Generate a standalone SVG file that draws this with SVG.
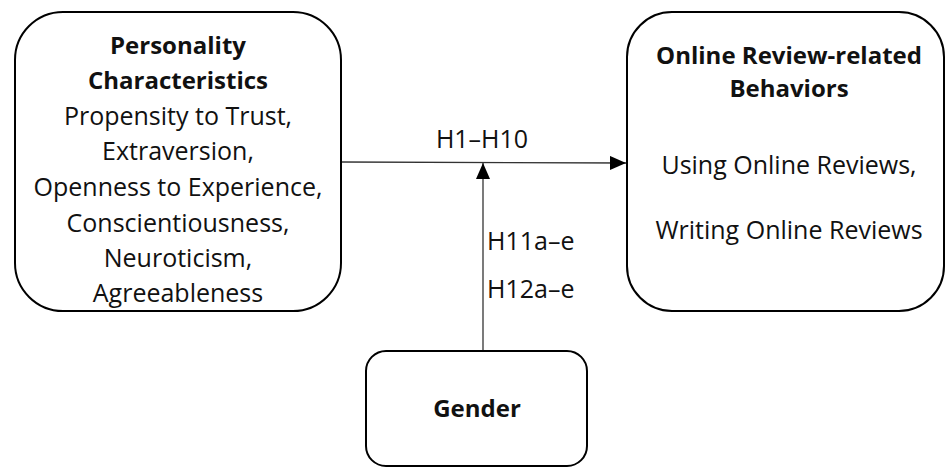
<svg xmlns="http://www.w3.org/2000/svg" width="945" height="468" viewBox="0 0 945 468">
<style>
.box{fill:#fff;stroke:#000;stroke-width:2}
.t{font-family:"Open Sans","Liberation Sans",sans-serif;font-size:25px;fill:#111;text-anchor:middle}
.b{font-weight:bold;font-size:24px}
.l{text-anchor:start}
.c{stroke:#333;stroke-width:1.3;fill:none}
</style>
<defs>
<marker id="ah2" markerWidth="16" markerHeight="14" refX="16" refY="7" orient="auto" markerUnits="userSpaceOnUse" viewBox="0 0 16 14">
<path d="M0,0 L16,7 L0,14 z" fill="#000"/>
</marker>
</defs>
<g id="connectors">
<line class="c" x1="341" y1="162" x2="626" y2="163" marker-end="url(#ah2)"/>
<line class="c" x1="483" y1="351" x2="483" y2="163" marker-end="url(#ah2)"/>
<text class="t" x="482" y="148">H1–H10</text>
<text class="t l" x="487" y="250">H11a–e</text>
<text class="t l" x="487" y="298">H12a–e</text>
</g>
<g id="personality">
<rect class="box" x="15" y="12" width="326" height="299" rx="48"/>
<text class="t b" x="178" y="54">Personality</text>
<text class="t b" x="178" y="89">Characteristics</text>
<text class="t" x="178" y="125">Propensity to Trust,</text>
<text class="t" x="178" y="160">Extraversion,</text>
<text class="t" x="178" y="196">Openness to Experience,</text>
<text class="t" x="178" y="232">Conscientiousness,</text>
<text class="t" x="178" y="267">Neuroticism,</text>
<text class="t" x="178" y="302">Agreeableness</text>
</g>
<g id="behaviors">
<rect class="box" x="627" y="12" width="317" height="299" rx="45"/>
<text class="t b" x="789" y="64">Online Review-related</text>
<text class="t b" x="789" y="97">Behaviors</text>
<text class="t" x="789" y="174">Using Online Reviews,</text>
<text class="t" x="789" y="239">Writing Online Reviews</text>
</g>
<g id="gender">
<rect class="box" x="366" y="351" width="221" height="115" rx="20"/>
<text class="t b" x="477" y="417">Gender</text>
</g>
</svg>
